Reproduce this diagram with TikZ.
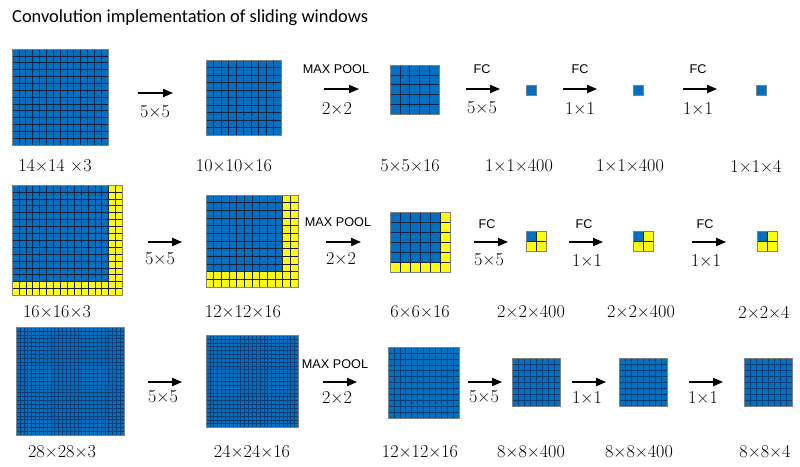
\documentclass[tikz,border=0pt]{standalone}
\usepackage{fontspec}
\newfontfamily\titlefont{Carlito}
\newfontfamily\opfont{Liberation Sans}
\usetikzlibrary{arrows.meta}
\definecolor{mapblue}{RGB}{0,112,192}
\definecolor{mapyellow}{RGB}{255,255,0}
\definecolor{gridnavy}{RGB}{24,32,64}
\definecolor{finenavy}{RGB}{10,60,115}
\definecolor{mapedge}{RGB}{128,128,128}

\tikzset{
  fwd/.style={line width=1.2pt, -{Triangle[length=8.5pt,width=7pt]}},
  dimlabel/.style={font=\fontsize{15.5}{17}\selectfont, inner sep=0pt},
  oplabel/.style={font=\opfont\fontsize{10.8}{12}\selectfont, inner sep=0pt},
  gridline/.style={draw=gridnavy, line width=0.5pt},
  finegrid/.style={draw=finenavy, line width=0.35pt},
}

% feature map: [grid style] x, y (top left), cell, cells per side, blue cells per side
\newcommand{\fmap}[6][]{%
  \begin{scope}[shift={(#2,#3)}]
    \fill[mapyellow] (0,0) rectangle ({#5*#4},{#5*#4});
    \fill[mapblue] (0,0) rectangle ({#6*#4},{#6*#4});
    \ifnum#5>1
      \pgfmathtruncatemacro{\fmlast}{#5-1}
      \foreach \i in {1,...,\fmlast} {
        \draw[gridline,#1] ({\i*#4},0) -- ({\i*#4},{#5*#4});
        \draw[gridline,#1] (0,{\i*#4}) -- ({#5*#4},{\i*#4});
      }
    \fi
    \draw[mapedge, line width=0.5pt] (0,0) rectangle ({#5*#4},{#5*#4});
  \end{scope}}

\begin{document}
\begin{tikzpicture}[x=0.03cm, y=-0.03cm]
    \useasboundingbox (0,0) rectangle (800,466);
    \node[anchor=west, inner sep=0pt, font=\titlefont\fontsize{15.7}{18}\selectfont] (title) at (12,18)
        {Convolution implementation of sliding windows};

    % Row 1: 14x14 input
    \fmap{12}{49}{6.86}{14}{14}
    \fmap{206}{60}{7.5}{10}{10}
    \fmap{390}{65}{9.8}{5}{5}
    \fmap{526}{85}{10}{1}{1}
    \fmap{633}{85}{10}{1}{1}
    \fmap{756}{85}{10}{1}{1}
    % Row 2: 16x16 input
    \fmap{12}{185}{6.9}{16}{14}
    \fmap{206}{195}{7.67}{12}{10}
    \fmap{390}{212}{10}{6}{5}
    \fmap{526}{231}{10}{2}{1}
    \fmap{633}{231}{10}{2}{1}
    \fmap{757}{231}{10}{2}{1}
    % Row 3: 28x28 input
    \fmap[finegrid]{16}{327}{3.86}{28}{28}
    \fmap[finegrid]{206}{335}{3.85}{24}{24}
    \fmap[finegrid]{388}{347}{5.9}{12}{12}
    \fmap[finegrid]{512}{358}{6}{8}{8}
    \fmap[finegrid]{619}{358}{6}{8}{8}
    \fmap[finegrid]{744}{358}{6}{8}{8}

    % Arrows
    \foreach \xs/\xe/\y/\nm in {138/173/93/a11, 324/359/89/a12, 466/500/89/a13, 563/597/89/a14, 683/717/89/a15,
        148/182/242/a21, 326/361/242/a22, 474/508/242/a23, 569/603/242/a24, 692/726/242/a25,
        148/182/382/a31, 323/357/382/a32, 468/502/382/a33, 572/606/382/a34, 689/723/382/a35} {
      \coordinate (\nm s) at (\xs,\y);
      \coordinate (\nm e) at (\xe,\y);
      \draw[fwd] (\nm s) -- (\nm e);
    }

    % Operation labels
    \node[oplabel] (p1) at (336,69) {MAX POOL};
    \node[oplabel] (f13) at (482,69) {FC};
    \node[oplabel] (f14) at (580,69) {FC};
    \node[oplabel] (f15) at (698,69) {FC};
    \node[oplabel] (p2) at (338,222) {MAX POOL};
    \node[oplabel] (f23) at (487,224) {FC};
    \node[oplabel] (f24) at (584,224) {FC};
    \node[oplabel] (f25) at (705,224) {FC};
    \node[oplabel] (p3) at (335,364) {MAX POOL};

    % Kernel sizes
    \node[dimlabel] (k11) at (155,112) {5×5};
    \node[dimlabel] (k12) at (337,108) {2×2};
    \node[dimlabel] (k13) at (482,108) {5×5};
    \node[dimlabel] (k14) at (580,108) {1×1};
    \node[dimlabel] (k15) at (698,108) {1×1};
    \node[dimlabel] (k21) at (160,259) {5×5};
    \node[dimlabel] (k22) at (341,258) {2×2};
    \node[dimlabel] (k23) at (489,260) {5×5};
    \node[dimlabel] (k24) at (587,260) {1×1};
    \node[dimlabel] (k25) at (706,260) {1×1};
    \node[dimlabel] (k31) at (163,397) {5×5};
    \node[dimlabel] (k32) at (337,397) {2×2};
    \node[dimlabel] (k33) at (484,397) {5×5};
    \node[dimlabel] (k34) at (587,397) {1×1};
    \node[dimlabel] (k35) at (703,397) {1×1};

    % Volume sizes
    \node[dimlabel] (d11) at (55,166) {14×14 ×3};
    \node[dimlabel] (d12) at (234,166) {10×10×16};
    \node[dimlabel] (d13) at (410,166) {5×5×16};
    \node[dimlabel] (d14) at (519,166) {1×1×400};
    \node[dimlabel] (d15) at (630,166) {1×1×400};
    \node[dimlabel] (d16) at (756,166) {1×1×4};
    \node[dimlabel] (d21) at (57,312) {16×16×3};
    \node[dimlabel] (d22) at (243,312) {12×12×16};
    \node[dimlabel] (d23) at (420,312) {6×6×16};
    \node[dimlabel] (d24) at (531,312) {2×2×400};
    \node[dimlabel] (d25) at (641,312) {2×2×400};
    \node[dimlabel] (d26) at (764,312) {2×2×4};
    \node[dimlabel] (d31) at (62,452) {28×28×3};
    \node[dimlabel] (d32) at (252,452) {24×24×16};
    \node[dimlabel] (d33) at (420,452) {12×12×16};
    \node[dimlabel] (d34) at (531,452) {8×8×400};
    \node[dimlabel] (d35) at (639,452) {8×8×400};
    \node[dimlabel] (d36) at (765,452) {8×8×4};
\end{tikzpicture}
\end{document}
